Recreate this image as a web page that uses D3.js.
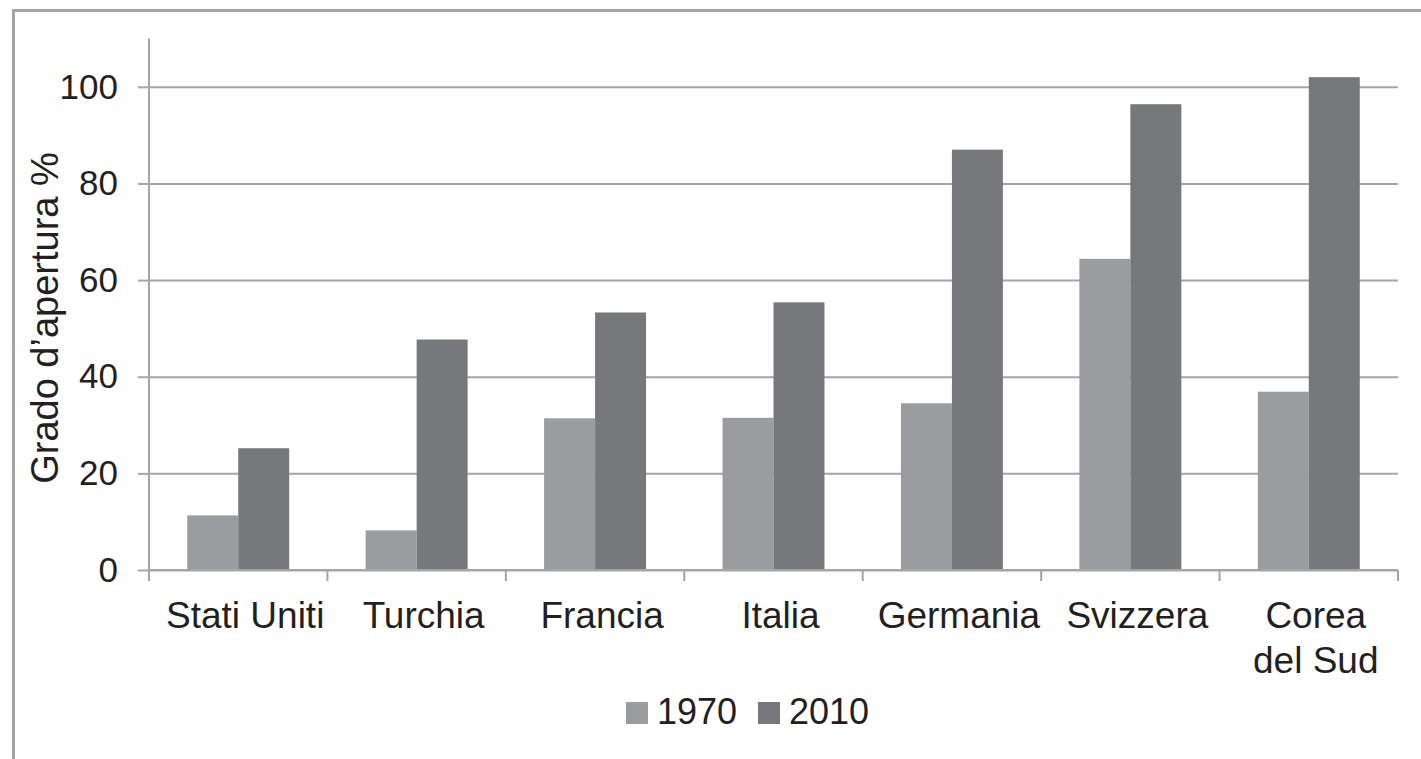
<!DOCTYPE html>
<html lang="it">
<head>
    <meta charset="UTF-8">
    <title>Grado d'apertura</title>
    <style>
        html, body { margin: 0; padding: 0; background: #fff; }
        text { font-family: "Liberation Sans", Arial, sans-serif; fill: #231f20; }
    </style>
</head>
<body>
<div id="chart"></div>
<script src="https://cdn.jsdelivr.net/npm/d3@7"></script>
<script>
// dati
const paesi = ["Stati Uniti", "Turchia", "Francia", "Italia", "Germania", "Svizzera", "Corea\ndel Sud"];
const anni = ["1970", "2010"];
const valori1970 = [11.3, 8.2, 31.4, 31.5, 34.5, 64.4, 36.9];
const valori2010 = [25.2, 47.7, 53.3, 55.4, 87.0, 96.4, 102.0];
const tickY = [0, 20, 40, 60, 80, 100];

const width = 1421, height = 759;
const colori = { "1970": "#9b9c9f", "2010": "#77787c" };
const grigio = "#a4a5a8";

let svg = d3.select("#chart")
    .append("svg")
    .attr("width", width)
    .attr("height", height);

// cornice
svg.append("rect")
    .attr("x", 13.5).attr("y", 10.5)
    .attr("width", width + 20).attr("height", height + 20)
    .attr("fill", "none")
    .attr("stroke", grigio)
    .attr("stroke-width", 3);

const mLeft = 149, mRight = 1398, mBottom = 570, mTop = 38.5;

let x = d3.scaleBand()
    .domain(paesi)
    .range([mLeft, mRight])
    .padding(0);

let x1 = d3.scaleBand()
    .domain(anni)
    .range([0, x.bandwidth()])
    .paddingInner(0)
    .paddingOuter(0.75);

let y = d3.scaleLinear()
    .domain([0, 110])
    .range([mBottom, mTop]);

// griglia
svg.append("g")
    .attr("transform", `translate(${mLeft},0)`)
    .call(d3.axisLeft(y).tickValues(tickY).tickSize(-(mRight - mLeft)).tickFormat(""))
    .call(g => g.select(".domain").remove())
    .call(g => g.selectAll("line").attr("stroke", grigio).attr("stroke-width", 2));

// barre
let righe = paesi.map((p, i) => ({ paese: p, "1970": valori1970[i], "2010": valori2010[i] }));

svg.append("g")
    .selectAll("g")
    .data(righe)
    .join("g")
        .attr("transform", d => `translate(${x(d.paese)},0)`)
    .selectAll("rect")
    .data(d => anni.map(a => ({ anno: a, v: d[a] })))
    .join("rect")
        .attr("x", d => x1(d.anno))
        .attr("width", x1.bandwidth())
        .attr("y", d => y(d.v))
        .attr("height", d => y(0) - y(d.v))
        .attr("fill", d => colori[d.anno]);

// asse y
svg.append("g")
    .attr("transform", `translate(${mLeft},0)`)
    .call(d3.axisLeft(y).tickValues(tickY).tickSize(11).tickPadding(20))
    .call(g => g.select(".domain").attr("stroke", grigio).attr("stroke-width", 2)
        .attr("d", `M0,${mBottom + 11}V${mTop}`))
    .call(g => g.selectAll("line").attr("stroke", grigio).attr("stroke-width", 2))
    .call(g => g.selectAll("text")
        .style("font-size", "35px")
        .style("font-family", "'Liberation Sans', Arial, sans-serif")
        .attr("fill", "#231f20"));

// asse x
svg.append("line")
    .attr("x1", mLeft).attr("x2", mRight)
    .attr("y1", mBottom).attr("y2", mBottom)
    .attr("stroke", grigio).attr("stroke-width", 2);

svg.append("g")
    .selectAll("line")
    .data(paesi.map(p => x(p)).concat([mRight]))
    .join("line")
        .attr("x1", d => d).attr("x2", d => d)
        .attr("y1", mBottom).attr("y2", mBottom + 11)
        .attr("stroke", grigio).attr("stroke-width", 2);

// etichette leggermente spostate a destra come nell'originale
const cx = d => x(d) + x.bandwidth() / 2 + 7;

svg.append("g")
    .selectAll("text")
    .data(paesi)
    .join("text")
        .attr("text-anchor", "middle")
        .attr("x", cx)
        .attr("y", 628)
        .style("font-size", "37px")
        .each(function (d) {
            d.split("\n").forEach((riga, i) => {
                d3.select(this).append("tspan")
                    .attr("x", cx(d))
                    .attr("dy", i === 0 ? 0 : 45)
                    .text(riga);
            });
        });

// titolo asse y
svg.append("text")
    .attr("transform", "translate(58,318) rotate(-90)")
    .attr("text-anchor", "middle")
    .style("font-size", "38px")
    .text("Grado d’apertura %");

// legenda
let leg = svg.append("g").attr("transform", "translate(626,724)");
let voci = leg.selectAll("g")
    .data(anni)
    .join("g")
        .attr("transform", (d, i) => `translate(${i * 132},0)`);
voci.append("rect")
    .attr("x", 0).attr("y", -22)
    .attr("width", 22).attr("height", 22)
    .attr("fill", d => colori[d]);
voci.append("text")
    .attr("x", 31)
    .style("font-size", "36px")
    .text(d => d);
</script>
</body>
</html>
